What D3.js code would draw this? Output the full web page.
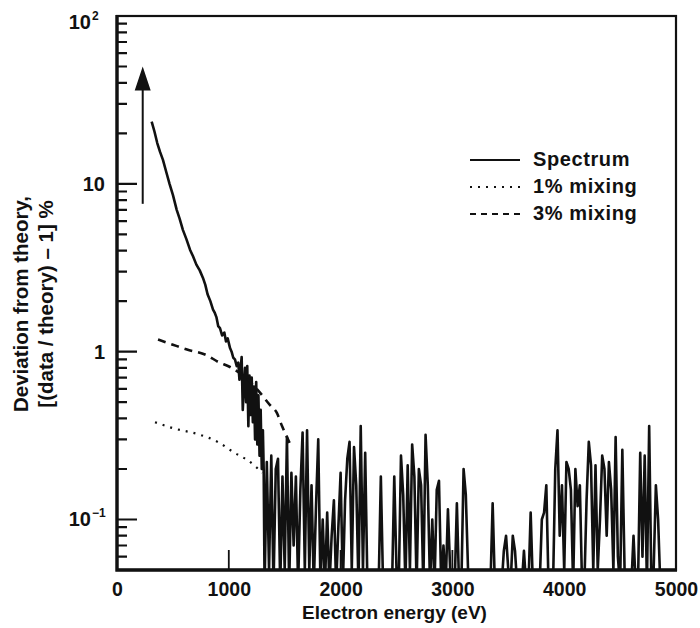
<!DOCTYPE html>
<html>
<head>
<meta charset="utf-8">
<script src="https://cdn.jsdelivr.net/npm/d3@7"></script>
<style>
  body { margin: 0; background: #fff; }
  text { font-family: "Liberation Sans", Arial, sans-serif; font-weight: bold; fill: #111; }
</style>
</head>
<body>
<svg id="chart" width="700" height="628"></svg>
<script>
// --- data ---

// smooth decaying part of the spectrum (eV, %)
const decayEnergy = [310, 335, 360, 385, 411, 440, 470, 500, 534, 560,
  590, 620, 653, 680, 710, 740, 769, 790, 810, 835,
  859, 875, 890, 905, 921, 940, 960, 975, 990, 1011,
  1025, 1040, 1055, 1071, 1085, 1095, 1105, 1115, 1125, 1135,
  1145, 1155, 1165, 1175, 1185, 1195, 1205, 1215, 1225, 1235,
  1245, 1255, 1265, 1275, 1285, 1295, 1305, 1312];
const decayValue = [23.5, 20.5, 17.5, 15.5, 13.9, 11.8, 10.0, 8.6, 7.0, 6.2,
  5.3, 4.7, 4.05, 3.7, 3.3, 3.05, 2.75, 2.5, 2.2, 2.0,
  1.78, 1.7, 1.6, 1.42, 1.38, 1.25, 1.3, 1.15, 1.2, 1.05,
  1.0, 0.92, 0.9, 0.82, 0.86, 0.68, 0.78, 0.93, 0.45, 0.62,
  0.8, 0.5, 0.82, 0.36, 0.72, 0.42, 0.7, 0.38, 0.62, 0.3,
  0.66, 0.28, 0.55, 0.24, 0.45, 0.2, 0.34, 0.2];

// noisy tail, sampled every 20 eV from 1320 eV (values below 0.05 fall off the axis)
const noiseStart = 1320;
const noiseStep = 20;
const noiseValue = [
  0.04, 0.22, 0.05, 0.24, 0.04, 0.20, 0.23, 0.04, 0.18, 0.05,   // 1320-1500
  0.31, 0.04, 0.19, 0.07, 0.18, 0.04, 0.15, 0.33, 0.05, 0.34,   // 1520-1700
  0.05, 0.16, 0.04, 0.12, 0.30, 0.04, 0.10, 0.04, 0.11, 0.04,   // 1720-1900
  0.08, 0.13, 0.04, 0.09, 0.19, 0.04, 0.13, 0.23, 0.29, 0.05,   // 1920-2100
  0.27, 0.16, 0.04, 0.36, 0.05, 0.25, 0.04, 0.04, 0.04, 0.04,   // 2120-2300
  0.04, 0.04, 0.18, 0.04, 0.04, 0.04, 0.04, 0.04, 0.18, 0.05,   // 2320-2500
  0.04, 0.24, 0.14, 0.04, 0.21, 0.05, 0.28, 0.18, 0.04, 0.20,   // 2520-2700
  0.16, 0.04, 0.32, 0.16, 0.04, 0.10, 0.04, 0.15, 0.17, 0.04,   // 2720-2900
  0.07, 0.04, 0.115, 0.05, 0.04, 0.04, 0.125, 0.04, 0.04, 0.20, // 2920-3100
  0.14, 0.05, 0.04, 0.04, 0.04, 0.04, 0.04, 0.04, 0.04, 0.04,   // 3120-3300
  0.04, 0.04, 0.125, 0.04, 0.04, 0.04, 0.04, 0.065, 0.08, 0.05, // 3320-3500
  0.04, 0.08, 0.065, 0.04, 0.04, 0.04, 0.065, 0.04, 0.04, 0.11, // 3520-3700
  0.04, 0.04, 0.04, 0.04, 0.10, 0.11, 0.16, 0.04, 0.04, 0.04,   // 3720-3900
  0.20, 0.34, 0.08, 0.16, 0.05, 0.22, 0.20, 0.15, 0.04, 0.20,   // 3920-4100
  0.12, 0.16, 0.04, 0.04, 0.13, 0.29, 0.21, 0.05, 0.21, 0.05,   // 4120-4300
  0.10, 0.24, 0.20, 0.08, 0.22, 0.15, 0.05, 0.31, 0.06, 0.04,   // 4320-4500
  0.26, 0.05, 0.04, 0.04, 0.04, 0.08, 0.04, 0.04, 0.25, 0.06,   // 4520-4700
  0.24, 0.04, 0.36, 0.04, 0.05, 0.16, 0.10, 0.04, 0.04, 0.04,   // 4720-4900
  0.04, 0.04, 0.04, 0.04                                        // 4920-4980
];

// model curves
const mix1Energy = [340, 500, 740, 900, 1050, 1170, 1300];
const mix1Value = [0.38, 0.35, 0.32, 0.29, 0.25, 0.225, 0.19];
const mix3Energy = [367, 500, 626, 805, 903, 1011, 1150, 1250, 1369, 1431, 1476, 1530, 1550];
const mix3Value = [1.18, 1.1, 1.03, 0.95, 0.87, 0.81, 0.70, 0.60, 0.48, 0.43, 0.36, 0.30, 0.28];

const xTickValues = [0, 1000, 2000, 3000, 4000, 5000];
const yMajorValues = [0.1, 1, 10, 100];
const yMajorLabels = [["10", "\u22121"], ["1", ""], ["10", ""], ["10", "2"]];
const legendLabels = ["Spectrum", "1% mixing", "3% mixing"];
const legendDash = [null, "2,6", "6,5"];

// arrow annotation (eV, from / to %)
const arrowEnergy = 230;
const arrowFrom = 7.6;
const arrowTo = 50;

// --- layout ---
const svg = d3.select("#chart");
const pLeft = 117, pRight = 676, pTop = 16, pBottom = 570;

const x = d3.scaleLinear().domain([0, 5000]).range([pLeft, pRight]);
const y = d3.scaleLog().domain([0.05, 100]).range([pBottom, pTop]);

svg.append("defs").append("clipPath").attr("id", "plotclip")
  .append("rect")
  .attr("x", pLeft).attr("y", pTop)
  .attr("width", pRight - pLeft).attr("height", pBottom - pTop);

// build series
const spectrum = decayEnergy.map((e, i) => [e, decayValue[i]])
  .concat(noiseValue.map((v, i) => [noiseStart + i * noiseStep, v]));
const mix1 = mix1Energy.map((e, i) => [e, mix1Value[i]]);
const mix3 = mix3Energy.map((e, i) => [e, mix3Value[i]]);

const lineGen = d3.line().x(d => x(d[0])).y(d => y(d[1]));
const smoothGen = d3.line().x(d => x(d[0])).y(d => y(d[1])).curve(d3.curveMonotoneX);

// frame
svg.append("rect")
  .attr("x", pLeft).attr("y", pTop)
  .attr("width", pRight - pLeft).attr("height", pBottom - pTop)
  .attr("fill", "none").attr("stroke", "#111").attr("stroke-width", 2.2);

// y axis ticks (inward) as one path, minor 10px, major 20px
const yAllTicks = y.ticks();
const isMajor = d => yMajorValues.some(m => Math.abs(m - d) / m < 1e-6);
const tickPath = yAllTicks
  .map(d => `M${pLeft},${y(d).toFixed(1)}h${isMajor(d) ? 20 : 10}`)
  .join("");
svg.append("path")
  .attr("d", tickPath)
  .attr("fill", "none").attr("stroke", "#111").attr("stroke-width", 2.2);

// x axis ticks (inward)
svg.selectAll("line.xtick")
  .data(xTickValues.slice(1, -1))
  .join("line")
  .attr("class", "xtick")
  .attr("x1", d => x(d)).attr("x2", d => x(d))
  .attr("y1", pBottom).attr("y2", pBottom - 20)
  .attr("stroke", "#111").attr("stroke-width", 1.8);

const plot = svg.append("g").attr("clip-path", "url(#plotclip)");

plot.append("path").datum(spectrum)
  .attr("d", lineGen)
  .attr("fill", "none").attr("stroke", "#111")
  .attr("stroke-width", 2.6).attr("stroke-linejoin", "round");

plot.append("path").datum(mix1)
  .attr("d", smoothGen)
  .attr("fill", "none").attr("stroke", "#111")
  .attr("stroke-width", 2.2).attr("stroke-dasharray", "2,6");

plot.append("path").datum(mix3)
  .attr("d", smoothGen)
  .attr("fill", "none").attr("stroke", "#111")
  .attr("stroke-width", 2.6).attr("stroke-dasharray", "8,6");

// heavy left and bottom axis lines
svg.append("path")
  .attr("d", `M${pLeft},${pTop - 1}V${pBottom}H${pRight + 1}`)
  .attr("fill", "none").attr("stroke", "#111").attr("stroke-width", 3.4);

// arrow
svg.append("line")
  .attr("x1", x(arrowEnergy)).attr("x2", x(arrowEnergy))
  .attr("y1", y(arrowFrom)).attr("y2", y(arrowTo) + 20)
  .attr("stroke", "#111").attr("stroke-width", 2);
svg.append("path")
  .attr("d", `M${x(arrowEnergy)},${y(arrowTo)} L${x(arrowEnergy) - 8},${y(arrowTo) + 24} L${x(arrowEnergy) + 8},${y(arrowTo) + 24} Z`)
  .attr("fill", "#111");

// y labels with exponents
const yLab = svg.append("g");
yMajorValues.forEach((v, i) => {
  const [base, exp] = yMajorLabels[i];
  const yy = y(v) + (v === 100 ? 13 : 7);
  yLab.append("text")
    .attr("x", exp ? 105 - 14 : 105).attr("y", yy)
    .attr("text-anchor", "end").attr("font-size", 20)
    .text(base);
  if (exp) {
    yLab.append("text")
      .attr("x", 105 - 13).attr("y", yy - 9)
      .attr("font-size", 12)
      .text(exp);
  }
});

// x labels
svg.append("g").attr("transform", `translate(0,${pBottom})`)
  .call(d3.axisBottom(x).tickValues(xTickValues).tickSize(0).tickPadding(12).tickFormat(d3.format("d")))
  .call(g => g.select(".domain").remove())
  .call(g => g.selectAll("text")
    .attr("font-size", 19.5).attr("font-family", "Liberation Sans, Arial, sans-serif")
    .attr("font-weight", "bold").attr("fill", "#111"));

// axis titles
svg.append("text")
  .attr("x", (pLeft + pRight) / 2 - 2).attr("y", 619)
  .attr("text-anchor", "middle").attr("font-size", 19)
  .text("Electron energy (eV)");

const yTitle = svg.append("g").attr("transform", "translate(0,304) rotate(-90)");
yTitle.append("text").attr("x", 0).attr("y", 28)
  .attr("text-anchor", "middle").attr("font-size", 20.5)
  .text("Deviation from theory,");
yTitle.append("text").attr("x", 0).attr("y", 53)
  .attr("text-anchor", "middle").attr("font-size", 20.5)
  .text("[(data / theory) \u2013 1] %");

// legend
const legend = svg.append("g");
legendLabels.forEach((lab, i) => {
  const by = 166 + i * 27;
  legend.append("line")
    .attr("x1", 470).attr("x2", 520)
    .attr("y1", by - 6).attr("y2", by - 6)
    .attr("stroke", "#111").attr("stroke-width", 2.2)
    .attr("stroke-dasharray", legendDash[i]);
  legend.append("text")
    .attr("x", 533).attr("y", by)
    .attr("font-size", 20).attr("letter-spacing", 0.6)
    .text(lab);
});
</script>
</body>
</html>
